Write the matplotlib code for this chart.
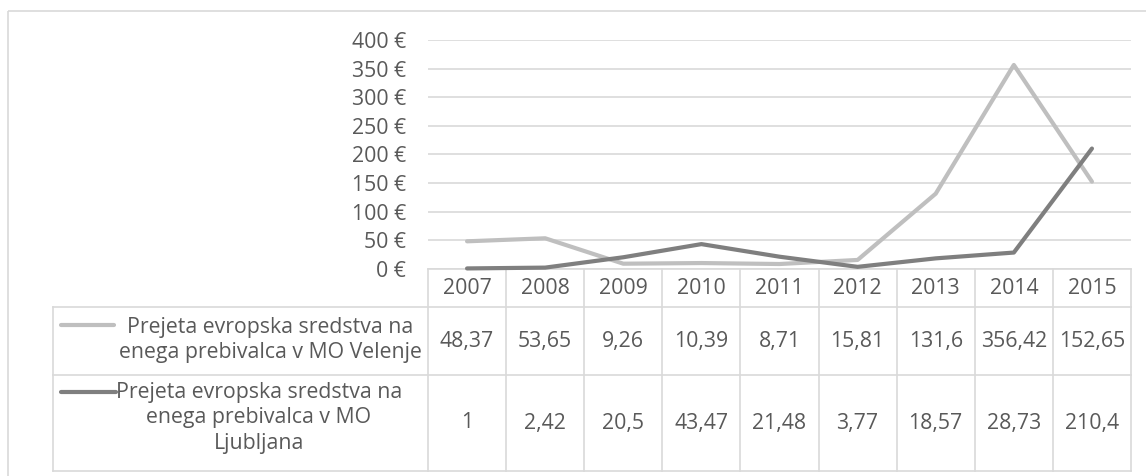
import matplotlib.pyplot as plt
from matplotlib.patches import Rectangle

# data
years = ['2007', '2008', '2009', '2010', '2011', '2012', '2013', '2014', '2015']
velenje = [48.37, 53.65, 9.26, 10.39, 8.71, 15.81, 131.6, 356.42, 152.65]
ljubljana = [1, 2.42, 20.5, 43.47, 21.48, 3.77, 18.57, 28.73, 210.4]
label_velenje = 'Prejeta evropska sredstva na\nenega prebivalca v MO Velenje'
label_ljubljana = 'Prejeta evropska sredstva na\nenega prebivalca v MO\nLjubljana'
yticks = [0, 50, 100, 150, 200, 250, 300, 350, 400]

W, H = 1146, 476
txt = '#595959'
grid = '#D9D9D9'
c_light = '#BFBFBF'
c_dark = '#7F7F7F'
plt.rcParams['font.family'] = ['Open Sans', 'DejaVu Sans']
fs = 15.3


def fmt(v):
    return ('%g' % v).replace('.', ',')


fig = plt.figure(figsize=(W / 100, H / 100), dpi=100)

# background axes in pixel coords for border + data table
bg = fig.add_axes([0, 0, 1, 1])
bg.set_xlim(0, W)
bg.set_ylim(H, 0)
bg.axis('off')
bg.add_patch(Rectangle((8, 11), 1200, 500, fill=False, ec=grid, lw=1.2))

x0, x1 = 428, 1131
col_w = (x1 - x0) / len(years)
leg_x = 53
y_top, y_h, y_r1, y_r2 = 269, 307, 375, 471

# table grid
bg.plot([x0, x1], [y_top, y_top], color=grid, lw=1.2)
bg.plot([leg_x, x1], [y_h, y_h], color=grid, lw=1.2)
bg.plot([leg_x, x1], [y_r1, y_r1], color=grid, lw=1.2)
bg.plot([leg_x, x1], [y_r2, y_r2], color=grid, lw=1.2)
bg.plot([leg_x, leg_x], [y_h, y_r2], color=grid, lw=1.2)
for i in range(len(years) + 1):
    bg.plot([x0 + i * col_w] * 2, [y_top, y_r2], color=grid, lw=1.2)

for i, yr in enumerate(years):
    cx = x0 + (i + 0.5) * col_w
    bg.text(cx, (y_top + y_h) / 2, yr, ha='center', va='center', color=txt, fontsize=fs)
    bg.text(cx, (y_h + y_r1) / 2, fmt(velenje[i]), ha='center', va='center', color=txt, fontsize=fs)
    bg.text(cx, (y_r1 + y_r2) / 2, fmt(ljubljana[i]), ha='center', va='center', color=txt, fontsize=fs)

# legend keys + labels
bg.plot([61, 114], [325, 325], color=c_light, lw=3, solid_capstyle='round')
bg.plot([61, 116], [392, 392], color=c_dark, lw=3, solid_capstyle='round')
bg.text(270, 340, label_velenje, ha='center', va='center', multialignment='center',
        color=txt, fontsize=fs, linespacing=1.3)
bg.text(259, 418, label_ljubljana, ha='center', va='center', multialignment='center',
        color=txt, fontsize=fs, linespacing=1.3)

# line chart
ax = fig.add_axes([x0 / W, (H - y_top) / H, (x1 - x0) / W, (y_top - 40) / H])
ax.set_facecolor('none')
xs = range(len(years))
ax.plot(xs, velenje, color=c_light, lw=3, solid_capstyle='round', solid_joinstyle='round', clip_on=False, zorder=3)
ax.plot(xs, ljubljana, color=c_dark, lw=3, solid_capstyle='round', solid_joinstyle='round', clip_on=False, zorder=4)
ax.set_xlim(-0.5, len(years) - 0.5)
ax.set_ylim(0, 400)
ax.set_yticks(yticks)
ax.set_yticklabels(['%d €' % v for v in yticks], color=txt, fontsize=fs)
ax.set_xticks([])
ax.tick_params(axis='y', length=0, pad=16)
ax.yaxis.grid(True, color=grid, lw=1.2)
ax.set_axisbelow(True)
for s in ax.spines.values():
    s.set_visible(False)

fig.savefig('out.png', dpi=100)
